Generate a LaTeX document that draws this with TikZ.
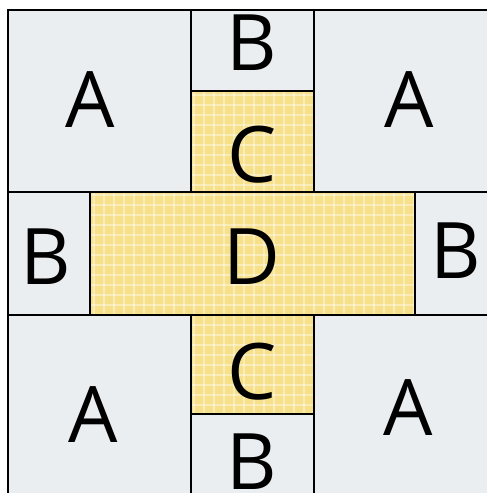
\documentclass[tikz,border=0pt]{standalone}
\usepackage{fontspec}
\setmainfont{Open Sans}
\usetikzlibrary{positioning}

\definecolor{patchgray}{HTML}{EBEEF0}
\definecolor{patchgold}{HTML}{F7E08A}

\begin{document}
\begin{tikzpicture}[
    x=1pt, y=-1pt,
    lightcell/.style={fill=patchgray, draw=black, line width=1.6pt},
    goldcell/.style={fill=patchgold, draw=black, line width=1.6pt},
    weave/.style={draw=white, line width=1.8pt, opacity=0.4},
    letter/.style={inner sep=0pt, font=\fontsize{78}{80}\selectfont}
  ]
    \useasboundingbox (0,0) rectangle (487,493);
    \clip (0,0) rectangle (487,493);
    \fill[white] (0,0) rectangle (487,493);

    % light cells
    \path[lightcell] (8,10) rectangle (191,192);
    \path[lightcell] (314,10) rectangle (497,192);
    \path[lightcell] (8,315) rectangle (191,497);
    \path[lightcell] (314,315) rectangle (497,497);
    \path[lightcell] (191,10) rectangle (314,91);
    \path[lightcell] (191,414) rectangle (314,497);
    \path[lightcell] (8,192) rectangle (90,315);
    \path[lightcell] (415,192) rectangle (497,315);

    % gold cross
    \path[goldcell] (191,91) rectangle (314,192);
    \path[goldcell] (90,192) rectangle (415,315);
    \path[goldcell] (191,315) rectangle (314,414);
    \begin{scope}
      \clip (191,91) rectangle (314,192) (90,192) rectangle (415,315) (191,315) rectangle (314,414);
      \foreach \k in {0,...,33} {
        \draw[weave] (94+10*\k,91) -- (94+10*\k,414);
        \draw[weave] (90,95+10*\k) -- (415,95+10*\k);
      }
    \end{scope}
    \draw[line width=1.6pt] (191,91) rectangle (314,192);
    \draw[line width=1.6pt] (90,192) rectangle (415,315);
    \draw[line width=1.6pt] (191,315) rectangle (314,414);

    % letters
    \node[letter] (aTL) at (90,100) {A};
    \node[letter] (aTR) at (409,100) {A};
    \node[letter] (aBL) at (93,415) {A};
    \node[letter] (aBR) at (408,408) {A};
    \node[letter] (bTop) at (252,43) {B};
    \node[letter] (bLeft) at (46,257) {B};
    \node[letter] (bRight) at (456,251) {B};
    \node[letter] (bBottom) at (252,462) {B};
    \node[letter] (cTop) at (252,155) {C};
    \node[letter] (cBottom) at (252,372) {C};
    \node[letter] (dMid) at (252,257) {D};
  \end{tikzpicture}
\end{document}
